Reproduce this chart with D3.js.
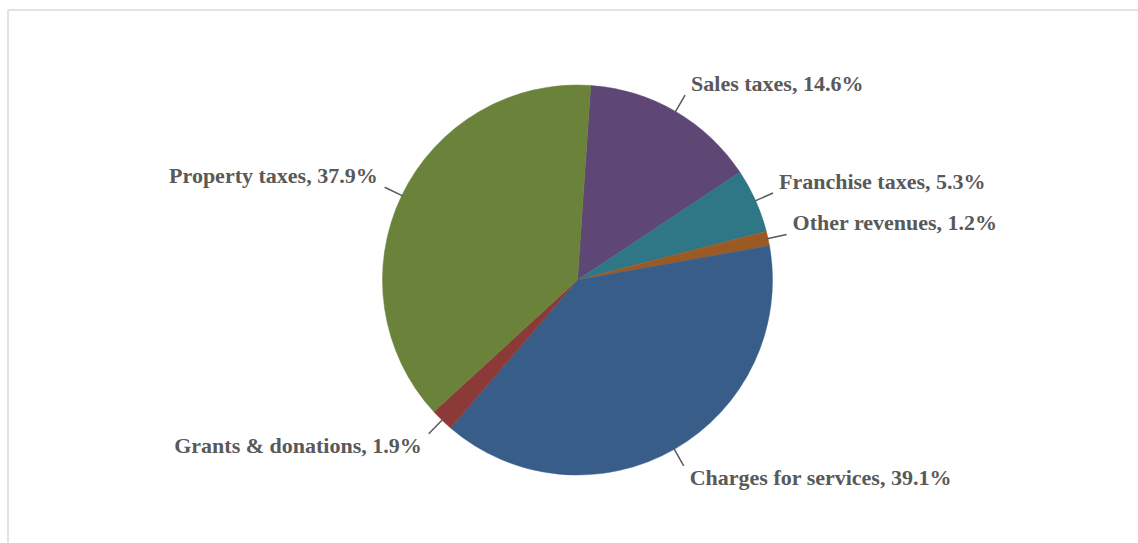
<!DOCTYPE html>
<meta charset="utf-8">
<head>
  <script src="https://d3js.org/d3.v7.min.js"></script>
  <style>
    body { margin: 0; background: #fff; }
    svg { display: block; }
  </style>
</head>
<body>
  <div id="my_dataviz"></div>
  <script>

    // data (clockwise from the top)
    var categories = ["Sales taxes", "Franchise taxes", "Other revenues", "Charges for services", "Grants & donations", "Property taxes"];
    var shares = [14.6, 5.3, 1.2, 39.1, 1.9, 37.9];
    var colors = ["#5e4775", "#2f7787", "#9b5a23", "#385d89", "#8b3a37", "#6a823a"];

    var width = 1138, height = 543;
    var cx = 577.5, cy = 280, radius = 195;
    var startAngle = 3.9 * Math.PI / 180;

    var svg = d3.select("#my_dataviz")
      .append("svg")
      .attr("width", width)
      .attr("height", height);

    // light frame (top and left edges only visible)
    svg.append("line")
      .attr("x1", 8).attr("x2", width).attr("y1", 10).attr("y2", 10)
      .attr("stroke", "#e2e2e2").attr("stroke-width", 2);
    svg.append("line")
      .attr("x1", 8).attr("x2", 8).attr("y1", 10).attr("y2", height)
      .attr("stroke", "#e2e2e2").attr("stroke-width", 2);

    var data = categories.map(function (c, i) { return { name: c, value: shares[i], color: colors[i] }; });

    var pie = d3.pie()
      .sort(null)
      .value(function (d) { return d.value; })
      .startAngle(startAngle)
      .endAngle(startAngle + 2 * Math.PI);

    var arcs = pie(data);

    var arc = d3.arc().innerRadius(0).outerRadius(radius);

    var g = svg.append("g").attr("transform", "translate(" + cx + "," + cy + ")");

    g.selectAll("path")
      .data(arcs)
      .enter()
      .append("path")
      .attr("d", arc)
      .attr("fill", function (d) { return d.data.color; })
      .attr("stroke", function (d) { return d.data.color; })
      .attr("stroke-width", 0.5);

    function pt(a, r) { return [Math.sin(a) * r, -Math.cos(a) * r]; }
    function mid(d) { return (d.startAngle + d.endAngle) / 2; }

    // leader lines
    g.selectAll("line.leader")
      .data(arcs)
      .enter()
      .append("line")
      .attr("class", "leader")
      .attr("x1", function (d) { return pt(mid(d), radius - 1)[0]; })
      .attr("y1", function (d) { return pt(mid(d), radius - 1)[1]; })
      .attr("x2", function (d) { return pt(mid(d), radius + 19)[0]; })
      .attr("y2", function (d) { return pt(mid(d), radius + 19)[1]; })
      .attr("stroke", "#595959")
      .attr("stroke-width", 1.5);

    // labels
    g.selectAll("text.label")
      .data(arcs)
      .enter()
      .append("text")
      .attr("class", "label")
      .attr("x", function (d) {
        var p = pt(mid(d), radius + 19);
        return p[0] + (p[0] >= 0 ? 6 : -7);
      })
      .attr("y", function (d) {
        var p = pt(mid(d), radius + 19);
        return p[1] + (p[1] < 0 ? -4 : 19);
      })
      .attr("text-anchor", function (d) { return pt(mid(d), 1)[0] >= 0 ? "start" : "end"; })
      .style("font-family", "'Liberation Serif', 'Times New Roman', serif")
      .style("font-weight", "bold")
      .style("font-size", "22px")
      .style("fill", "#595959")
      .text(function (d) { return d.data.name + ", " + d.data.value.toFixed(1) + "%"; });

  </script>
</body>
